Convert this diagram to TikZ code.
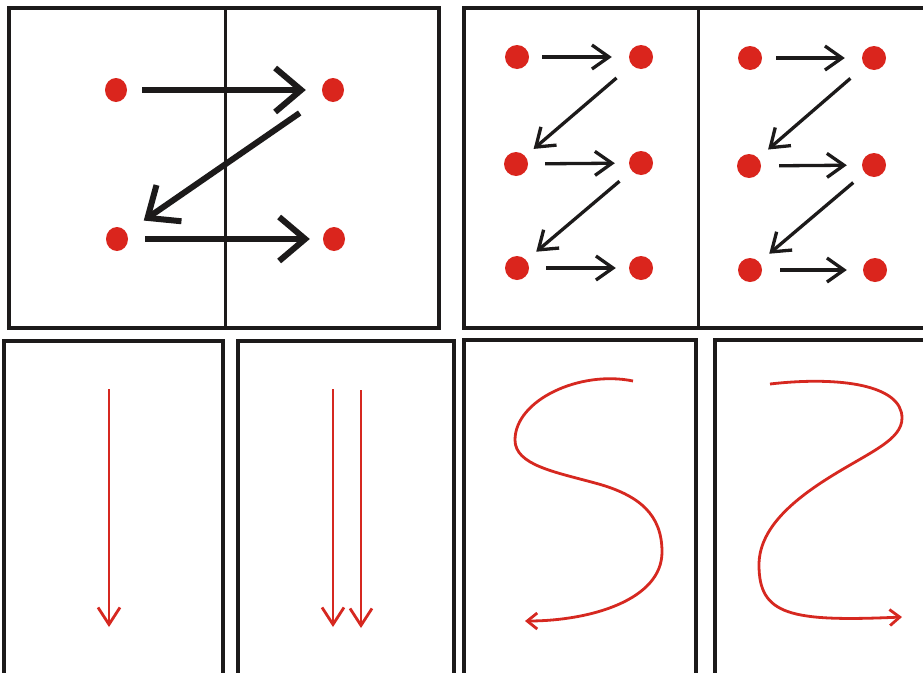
\documentclass[tikz,border=0pt]{standalone}
\usetikzlibrary{arrows.meta,shapes.geometric}
\definecolor{dotred}{RGB}{218,37,29}
\definecolor{linered}{RGB}{214,40,32}
\definecolor{ink}{RGB}{28,26,26}
\begin{document}
\begin{tikzpicture}[x=1pt,y=-1pt,
  frame/.style={draw=ink,line width=3.1pt},
  divider/.style={draw=ink,line width=3pt},
  bigdot/.style={ellipse,fill=dotred,draw=none,minimum width=22pt,minimum height=24pt,inner sep=0pt},
  dot/.style={circle,fill=dotred,draw=none,minimum size=24pt,inner sep=0pt},
  bigarrow/.style={draw=ink,line width=6pt,-{Straight Barb[length=26pt,width=44pt]}},
  smallarrow/.style={draw=ink,line width=3.3pt,-{Straight Barb[length=17pt,width=24pt]}},
  redarrow/.style={draw=linered,line width=2.8pt,-{Straight Barb[length=17pt,width=22pt]}},
  redcurve/.style={draw=linered,line width=2.8pt,-{Straight Barb[length=10pt,width=16pt]}}]
\useasboundingbox (0,0) rectangle (923,672);
\fill[white] (0,0) rectangle (923,672);
% frames
\draw[frame] (9,8) rectangle (439,328);
\draw[divider] (225,8) -- (225,328);
\draw[frame] (464,8) rectangle (940,328);
\draw[divider] (698,8) -- (698,328);
\draw[frame] (4,341) rectangle (223,695);
\draw[frame] (238,341) rectangle (454,695);
\draw[frame] (464,340) rectangle (696,695);
\draw[frame] (715,340) rectangle (940,695);
% panel 1
\node[bigdot] (a1) at (116,90) {};
\node[bigdot] (a2) at (333,90) {};
\node[bigdot] (a3) at (117,239) {};
\node[bigdot] (a4) at (334,239) {};
\draw[bigarrow,shorten <=15pt,shorten >=16pt] (a1) -- (a2);
\draw[bigarrow,shorten <=29pt,shorten >=21pt] (a2) -- (a3);
\draw[bigarrow,shorten <=17pt,shorten >=13pt] (a3) -- (a4);
% panel 2
\node[dot] (p1) at (517,57) {};
\node[dot] (p2) at (641,57) {};
\node[dot] (p3) at (516,164) {};
\node[dot] (p4) at (641,163) {};
\node[dot] (p5) at (517,268) {};
\node[dot] (p6) at (641,268) {};
\draw[smallarrow,shorten <=13pt,shorten >=17pt] (p1) -- (p2);
\draw[smallarrow,shorten <=20pt,shorten >=11pt] (p2) -- (p3);
\draw[smallarrow,shorten <=17pt,shorten >=14pt] (p3) -- (p4);
\draw[smallarrow,shorten <=16pt,shorten >=13pt] (p4) -- (p5);
\draw[smallarrow,shorten <=17pt,shorten >=13pt] (p5) -- (p6);
% panel 3
\node[dot] (q1) at (750,58) {};
\node[dot] (q2) at (874,58) {};
\node[dot] (q3) at (749,166) {};
\node[dot] (q4) at (874,165) {};
\node[dot] (q5) at (750,270) {};
\node[dot] (q6) at (875,270) {};
\draw[smallarrow,shorten <=14pt,shorten >=17pt] (q1) -- (q2);
\draw[smallarrow,shorten <=19pt,shorten >=13pt] (q2) -- (q3);
\draw[smallarrow,shorten <=18pt,shorten >=15pt] (q3) -- (q4);
\draw[smallarrow,shorten <=15pt,shorten >=13pt] (q4) -- (q5);
\draw[smallarrow,shorten <=18pt,shorten >=16pt] (q5) -- (q6);
% bottom straight arrows
\coordinate (s1) at (109,389); \coordinate (e1) at (109,627);
\coordinate (s2) at (333,389); \coordinate (e2) at (333,627);
\coordinate (s3) at (361,390); \coordinate (e3) at (361,628);
\draw[redarrow] (s1) -- (e1);
\draw[redarrow] (s2) -- (e2);
\draw[redarrow] (s3) -- (e3);
% S curve
\coordinate (c0) at (633,381);
\coordinate (c4) at (525,621);
\draw[redcurve] (c0) .. controls (580,370) and (515,400) .. (515,440)
  .. controls (515,465) and (555,472) .. (595,483)
  .. controls (640,495) and (662,515) .. (662,552)
  .. controls (662,600) and (590,621) .. (c4);
% mirrored S curve
\coordinate (d0) at (770,384);
\coordinate (d4) at (902,617);
\draw[redcurve] (d0) .. controls (840,376) and (902,385) .. (902,418)
  .. controls (902,440) and (870,452) .. (830,477)
  .. controls (790,502) and (759,530) .. (759,565)
  .. controls (759,615) and (790,622) .. (d4);
\end{tikzpicture}
\end{document}
